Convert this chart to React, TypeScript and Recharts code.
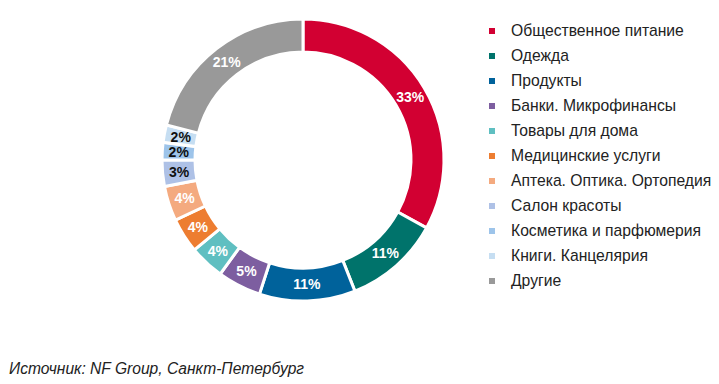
import { PieChart, Pie, Cell, Legend } from "recharts";

const CATEGORIES = [
  "Общественное питание",
  "Одежда",
  "Продукты",
  "Банки. Микрофинансы",
  "Товары для дома",
  "Медицинские услуги",
  "Аптека. Оптика. Ортопедия",
  "Салон красоты",
  "Косметика и парфюмерия",
  "Книги. Канцелярия",
  "Другие",
];
const SHARES = [33, 11, 11, 5, 4, 4, 4, 3, 2, 2, 21];
const COLORS = [
  "#d20032",
  "#00736b",
  "#00629b",
  "#7d5ea0",
  "#5fbfc1",
  "#ed7d31",
  "#f4aa7f",
  "#aec1e6",
  "#9dc4ea",
  "#c6def2",
  "#999999",
];
// small light slices get dark label text
const DARK_LABEL = [false, false, false, false, false, false, false, true, true, true, false];

const data = CATEGORIES.map((name, i) => ({ name, value: SHARES[i] }));
const RADIAN = Math.PI / 180;
const FONT = "'Liberation Sans', Arial, sans-serif";

function renderLabel(props: any) {
  const { cx, cy, midAngle, innerRadius, outerRadius, index, value } = props;
  const r = (innerRadius + outerRadius) / 2;
  const x = cx + r * Math.cos(-midAngle * RADIAN);
  const y = cy + r * Math.sin(-midAngle * RADIAN);
  return (
    <text
      x={x}
      y={y}
      fill={DARK_LABEL[index] ? "#111" : "#fff"}
      textAnchor="middle"
      dominantBaseline="central"
      fontSize={14}
      fontWeight={700}
      fontFamily={FONT}
    >
      {value}%
    </text>
  );
}

function LegendList() {
  return (
    <div style={{ fontFamily: FONT, fontSize: 15.7, color: "#222" }}>
      {CATEGORIES.map((c, i) => (
        <div key={c} style={{ height: 25, display: "flex", alignItems: "center" }}>
          <span style={{ width: 6, height: 6, background: COLORS[i], display: "inline-block", marginRight: 16 }} />
          {c}
        </div>
      ))}
    </div>
  );
}

export default function App() {
  return (
    <div style={{ position: "absolute", left: 0, top: 0, width: 719, height: 384, background: "#fff" }}>
      <PieChart width={719} height={384} margin={{ top: 0, right: 0, bottom: 0, left: 0 }}>
        <Pie
          data={data}
          dataKey="value"
          nameKey="name"
          cx={303}
          cy={160}
          outerRadius={141}
          innerRadius={108}
          startAngle={90}
          endAngle={-270}
          stroke="#fff"
          strokeWidth={3}
          label={renderLabel}
          labelLine={false}
          isAnimationActive={false}
        >
          {data.map((_, i) => (
            <Cell key={i} fill={COLORS[i]} />
          ))}
        </Pie>
        <Legend
          content={() => <LegendList />}
          wrapperStyle={{ position: "absolute", left: 489, top: 18, width: 230 }}
        />
      </PieChart>
      <div
        style={{
          position: "absolute",
          left: 9,
          top: 360,
          fontFamily: FONT,
          fontSize: 15.6,
          fontStyle: "italic",
          color: "#222",
        }}
      >
        Источник: NF Group, Санкт-Петербург
      </div>
    </div>
  );
}
